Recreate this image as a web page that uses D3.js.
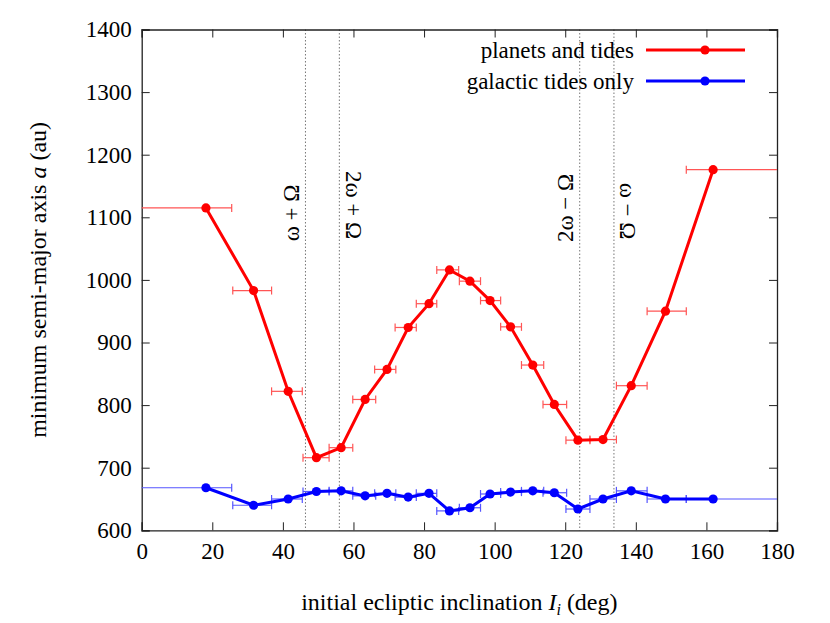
<!DOCTYPE html><html><head><meta charset="utf-8">
<script src="https://cdn.jsdelivr.net/npm/d3@7"></script>
<style>body{margin:0;background:#fff}text{font-family:"Liberation Serif","DejaVu Serif",serif}</style></head><body>
<script>
const inc = [18.2,31.7,41.5,49.5,56.5,63.3,69.5,75.5,81.4,87.2,93,98.7,104.5,110.8,116.9,123.6,130.7,138.7,148.4,161.9];
const incLo = [0,25.8,36.8,45.7,53.1,59.8,66,71.8,77.8,83.6,90,96,101.7,107.6,113.7,120.2,127,134.5,143.2,154.3];
const incHi = [25.5,36.8,45.5,53.1,59.8,66.3,72,77.8,83.6,89.8,96,101.7,107.6,113.9,120.4,127,134.5,143.2,154.3,180];
const planets = [1115,983,822,716,732,809,857,924,962,1016,998,967,925,864,801,744,745,831,950,1176];
const galactic = [668,640,650,662,663,655,659,653,659,631,636,658,661,663,660,634,650,663,650,650];
const resonances = [{x:46.4,label:"ω + Ω",rot:-90,y:213},{x:56.0,label:"2ω + Ω",rot:90,y:205},{x:124.1,label:"2ω − Ω",rot:-90,y:208},{x:133.8,label:"ω − Ω",rot:90,y:211}];
const xTicks = d3.range(0,181,20), yTicks = d3.range(600,1401,100);

const W=830,H=623,L=141.7,R=777,T=29.5,B=530.3;
const svg=d3.select("body").append("svg").attr("width",W).attr("height",H);
const x=d3.scaleLinear().domain([0,180]).range([L,R]);
const y=d3.scaleLinear().domain([600,1400]).range([B,T]);

resonances.forEach(r=>{
  svg.append("line").attr("x1",x(r.x)).attr("x2",x(r.x)).attr("y1",T).attr("y2",B)
    .attr("stroke","#777").attr("stroke-width",1).attr("stroke-dasharray","1.5,2");
  svg.append("text").attr("transform",`translate(${x(r.x)+(r.rot<0?-14:14)},${r.y}) rotate(${r.rot})`)
    .attr("text-anchor","middle").attr("dominant-baseline","central").attr("font-size",23).text(r.label);
});

const fmt=d3.format("d");
const gx=svg.append("g").attr("transform",`translate(0,${B})`).call(d3.axisBottom(x).tickValues(xTicks).tickFormat(fmt).tickSize(-8).tickPadding(12));
const gx2=svg.append("g").attr("transform",`translate(0,${T})`).call(d3.axisTop(x).tickValues(xTicks).tickSize(-8).tickFormat(""));
const gy=svg.append("g").attr("transform",`translate(${L},0)`).call(d3.axisLeft(y).tickValues(yTicks).tickFormat(fmt).tickSize(-8).tickPadding(10));
const gy2=svg.append("g").attr("transform",`translate(${R},0)`).call(d3.axisRight(y).tickValues(yTicks).tickSize(-8).tickFormat(""));
[gx,gx2,gy,gy2].forEach(g=>{g.selectAll("path").attr("stroke","#222").attr("stroke-width",1.3);g.selectAll("line").attr("stroke","#222");g.selectAll("text").attr("font-size",23).attr("fill","#000").attr("font-family","Liberation Serif, serif");});

function series(vals,col,lightCol){
  const g=svg.append("g");
  vals.forEach((v,i)=>{
    const yy=y(v);
    g.append("line").attr("x1",x(incLo[i])).attr("x2",x(incHi[i])).attr("y1",yy).attr("y2",yy).attr("stroke",lightCol).attr("stroke-width",1.2);
    [incLo[i],incHi[i]].forEach(e=>{ if(e>0&&e<180) g.append("line").attr("x1",x(e)).attr("x2",x(e)).attr("y1",yy-4).attr("y2",yy+4).attr("stroke",lightCol).attr("stroke-width",1.2);});
  });
  g.append("path").attr("d",d3.line().x((d,i)=>x(inc[i])).y(d=>y(d))(vals)).attr("fill","none").attr("stroke",col).attr("stroke-width",3);
  g.selectAll("circle").data(vals).join("circle").attr("cx",(d,i)=>x(inc[i])).attr("cy",d=>y(d)).attr("r",4.6).attr("fill",col);
}
series(planets,"#ff0000","#ff5555");
series(galactic,"#0000ff","#5555ff");

[["planets and tides","#ff0000",50],["galactic tides only","#0000ff",81]].forEach(([t,c,yy])=>{
  svg.append("text").attr("x",634).attr("y",yy).attr("text-anchor","end").attr("dominant-baseline","central").attr("font-size",23).text(t);
  svg.append("line").attr("x1",646).attr("x2",745).attr("y1",yy).attr("y2",yy).attr("stroke",c).attr("stroke-width",3);
  svg.append("circle").attr("cx",705).attr("cy",yy).attr("r",4.6).attr("fill",c);
});

const xl=svg.append("text").attr("x",(L+R)/2).attr("y",610).attr("text-anchor","middle").attr("font-size",24);
xl.append("tspan").text("initial ecliptic inclination ");
xl.append("tspan").attr("font-style","italic").text("I");
xl.append("tspan").attr("font-style","italic").attr("font-size",16).attr("dy",5).text("i");
xl.append("tspan").attr("dy",-5).text(" (deg)");
const yl=svg.append("text").attr("transform",`translate(46,${(T+B)/2}) rotate(-90)`).attr("text-anchor","middle").attr("font-size",24);
yl.append("tspan").text("minimum semi-major axis ");
yl.append("tspan").attr("font-style","italic").text("a");
yl.append("tspan").text(" (au)");
</script></body></html>
